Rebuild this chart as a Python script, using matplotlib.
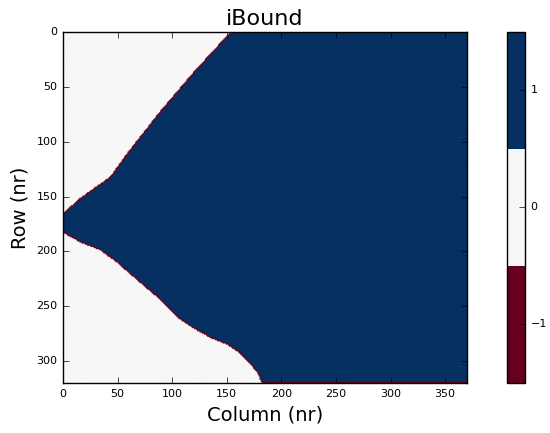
import numpy as np
import matplotlib
matplotlib.use("Agg")
import matplotlib.pyplot as plt
from matplotlib.path import Path

plt.style.use('classic')

# grid size
nrow = 320
ncol = 370

# active-area outline (column, row)
upper_cols = [0, 16, 43, 59, 89, 119, 153]
upper_rows = [165, 151, 132, 110, 72, 37, 0]
lower_cols = [182, 178, 171, 162, 150, 135, 119, 104, 89, 78, 64, 49, 34, 16, 0]
lower_rows = [320, 311, 302, 293, 285, 279, 270, 260, 244, 235, 223, 210, 199, 192, 183]

bound_ticks = [-1, 0, 1]


def build_ibound():
    verts = list(zip(upper_cols, upper_rows))
    verts += [(ncol, 0), (ncol, nrow)]
    verts += list(zip(lower_cols, lower_rows))
    poly = Path(verts)

    jj, ii = np.meshgrid(np.arange(ncol) + 0.5, np.arange(nrow) + 0.5)
    pts = np.column_stack([jj.ravel(), ii.ravel()])
    active = poly.contains_points(pts).reshape(nrow, ncol)

    ib = active.astype(int)
    # constant head cells along the edge of the active area (8 neighbours)
    pad = np.pad(active, 1, mode='edge')
    inner = np.ones_like(active)
    for di in (-1, 0, 1):
        for dj in (-1, 0, 1):
            inner &= pad[1 + di:nrow + 1 + di, 1 + dj:ncol + 1 + dj]
    ib[active & ~inner] = -1
    ib[-1, active[-1]] = -1
    return ib


ibound = build_ibound()

fig = plt.figure(figsize=(5.5, 4.33), dpi=100)
ax = fig.add_axes([0.1145, 0.1155, 0.7345, 0.8106])
cax = fig.add_axes([0.9218, 0.1155, 0.0327, 0.8106])

cmap = plt.get_cmap('RdBu', 3)
im = ax.imshow(ibound, cmap=cmap, vmin=-1.5, vmax=1.5, interpolation='bilinear',
               interpolation_stage='rgba', aspect='auto', extent=(0, ncol, nrow, 0))
ax.set_xlim(0, ncol)
ax.set_ylim(nrow, 0)
ax.set_xticks(np.arange(0, 351, 50))
ax.set_yticks(np.arange(0, 301, 50))
ax.tick_params(labelsize=8)
ax.set_title('iBound', fontsize=16)
ax.set_xlabel('Column (nr)', fontsize=14)
ax.set_ylabel('Row (nr)', fontsize=14)

cb = fig.colorbar(im, cax=cax, ticks=bound_ticks)
cb.ax.tick_params(labelsize=8)

fig.savefig('out.png', dpi=100)
